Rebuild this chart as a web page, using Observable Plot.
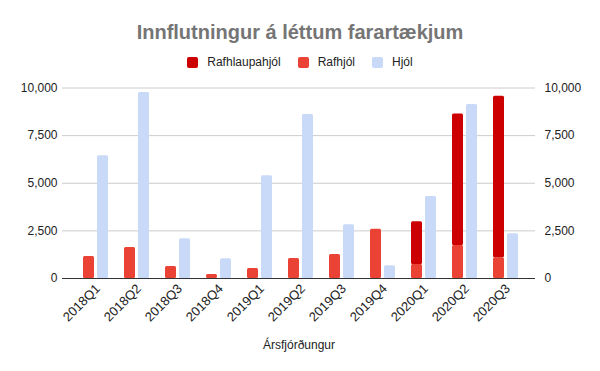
<!DOCTYPE html>
<html>
<head>
<meta charset="utf-8">
<script src="https://cdn.jsdelivr.net/npm/d3@7"></script>
<script src="https://cdn.jsdelivr.net/npm/@observablehq/plot@0.6"></script>
<style>
  html, body { margin: 0; padding: 0; background: #fff; }
  body { width: 600px; height: 371px; overflow: hidden; font-family: "Liberation Sans", Arial, sans-serif; }
  #head { height: 75px; position: relative; }
  #title { position: absolute; top: 20px; left: 0; width: 600px; text-align: center; font-size: 20px; font-weight: bold; color: #757575; line-height: 24px; }
  #legend { position: absolute; top: 54px; left: 0; width: 600px; display: flex; justify-content: center; font-size: 12px; color: #222; line-height: 16px; }
  .item { display: flex; align-items: center; margin: 0 8.5px; }
  .sw { width: 11px; height: 11px; border-radius: 2px; margin-right: 9px; }
  #chart svg { display: block; }
</style>
</head>
<body>
<div id="head">
  <div id="title"></div>
  <div id="legend"></div>
</div>
<div id="chart"></div>
<script>
const title = "Innflutningur á léttum farartækjum";
const xLabel = "Ársfjórðungur";
const quarters = ["2018Q1","2018Q2","2018Q3","2018Q4","2019Q1","2019Q2","2019Q3","2019Q4","2020Q1","2020Q2","2020Q3"];
const seriesNames = ["Rafhlaupahjól","Rafhjól","Hjól"];
const seriesColors = ["#cc0000","#ea4335","#c9daf8"];
const rafhlaupahjol = [0,0,0,0,0,0,0,0,2250,6900,8480];
const rafhjol = [1150,1630,630,210,525,1050,1260,2580,735,1735,1090];
const hjol = [6450,9760,2090,1035,5400,8610,2825,670,4300,9140,2350];
const yTicks = [0,2500,5000,7500,10000];

document.getElementById("title").textContent = title;
const legend = document.getElementById("legend");
seriesNames.forEach((n, i) => {
  const it = document.createElement("div"); it.className = "item";
  const sw = document.createElement("div"); sw.className = "sw"; sw.style.background = seriesColors[i];
  const tx = document.createElement("span"); tx.textContent = n;
  it.appendChild(sw); it.appendChild(tx); legend.appendChild(it);
});

const stacked = [];
quarters.forEach((q, i) => {
  stacked.push({q, type: "Rafhjól", value: rafhjol[i]});
  stacked.push({q, type: "Rafhlaupahjól", value: rafhlaupahjol[i]});
});
const bikes = quarters.map((q, i) => ({q, type: "Hjól", value: hjol[i]}));

const fmt = d3.format(",");
const chart = Plot.plot({
  width: 600,
  height: 296,
  marginTop: 12.5,
  marginBottom: 93,
  marginLeft: 62,
  marginRight: 65,
  style: {fontFamily: "Liberation Sans, Arial, sans-serif", fontSize: "12px", color: "#222", background: "#fff"},
  x: {domain: quarters, range: [70, 530], padding: 0},
  y: {domain: [0, 10000]},
  color: {domain: seriesNames, range: seriesColors},
  marks: [
    Plot.ruleY(yTicks.filter(d => d > 0), {stroke: "#cccccc", strokeWidth: 1}),
    Plot.barY(stacked, Plot.stackY({x: "q", y: "value", fill: "type", order: seriesNames.slice(0,2).reverse(), insetLeft: 8, insetRight: 22, rx: 1.5})),
    Plot.barY(bikes, {x: "q", y: "value", fill: "type", insetLeft: 22, insetRight: 8, rx: 1.5}),
    Plot.ruleY([0], {stroke: "#333333", strokeWidth: 1}),
    Plot.axisY(yTicks, {anchor: "left", tickSize: 0, tickPadding: 5, tickFormat: fmt, label: null, fontSize: 12}),
    Plot.axisY(yTicks, {anchor: "right", tickSize: 0, tickPadding: 9, tickFormat: fmt, label: null, fontSize: 12}),
    Plot.axisX({tickRotate: -45, tickSize: 0, tickPadding: 8, dx: 2, label: null, fontSize: 13}),
    Plot.text([xLabel], {frameAnchor: "bottom", dy: 70, fontSize: 12, fill: "#222"})
  ]
});
document.getElementById("chart").appendChild(chart);
</script>
</body>
</html>
